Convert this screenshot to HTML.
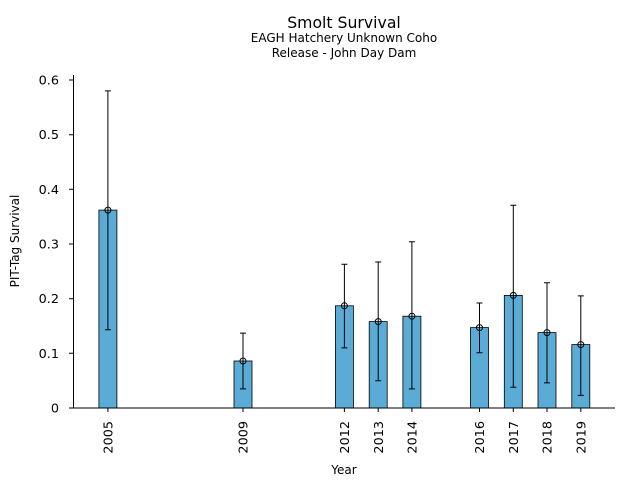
<!DOCTYPE html>
<html><head><meta charset="utf-8"><style>html,body{margin:0;padding:0;background:#fff}svg{display:block}</style></head>
<body>
<svg width="640" height="480" viewBox="0 0 640 480" xmlns="http://www.w3.org/2000/svg" font-family="DejaVu Sans, Liberation Sans, sans-serif">
<rect width="640" height="480" fill="#fff"/>
<text x="344" y="28" font-size="15.7" text-anchor="middle">Smolt Survival</text>
<text x="344" y="42" font-size="12" text-anchor="middle">EAGH Hatchery Unknown Coho</text>
<text x="344" y="57" font-size="12" text-anchor="middle">Release - John Day Dam</text>
<g fill="#5aacd6" stroke="#000" stroke-width="0.8">
<rect x="98.9" y="210.1" width="18" height="197.9"/>
<rect x="234" y="361" width="18" height="47"/>
<rect x="335.4" y="305.8" width="18" height="102.2"/>
<rect x="369.2" y="321.6" width="18" height="86.4"/>
<rect x="402.9" y="316.2" width="18" height="91.8"/>
<rect x="470.5" y="327.6" width="18" height="80.4"/>
<rect x="504.3" y="295.4" width="18" height="112.6"/>
<rect x="538" y="332.6" width="18" height="75.4"/>
<rect x="571.8" y="344.6" width="18" height="63.4"/>
</g>
<g stroke="#000" stroke-width="1" fill="none">
<path d="M107.9 90.9V329.8M104.9 90.9h6M104.9 329.8h6"/>
<path d="M243 333.1V388.9M240 333.1h6M240 388.9h6"/>
<path d="M344.4 264.2V347.9M341.4 264.2h6M341.4 347.9h6"/>
<path d="M378.2 262V380.7M375.2 262h6M375.2 380.7h6"/>
<path d="M411.9 241.8V388.9M408.9 241.8h6M408.9 388.9h6"/>
<path d="M479.5 303V352.8M476.5 303h6M476.5 352.8h6"/>
<path d="M513.3 205.2V387.2M510.3 205.2h6M510.3 387.2h6"/>
<path d="M547 282.8V382.9M544 282.8h6M544 382.9h6"/>
<path d="M580.8 295.9V395.4M577.8 295.9h6M577.8 395.4h6"/>
<circle cx="107.9" cy="210.1" r="3"/><circle cx="243" cy="361" r="3"/>
<circle cx="344.4" cy="305.8" r="3"/><circle cx="378.2" cy="321.6" r="3"/>
<circle cx="411.9" cy="316.2" r="3"/><circle cx="479.5" cy="327.6" r="3"/>
<circle cx="513.3" cy="295.4" r="3"/><circle cx="547" cy="332.6" r="3"/>
<circle cx="580.8" cy="344.6" r="3"/>
</g>
<g stroke="#000" stroke-width="1">
<line x1="73.5" y1="75" x2="73.5" y2="408.5"/>
<line x1="73" y1="408" x2="615" y2="408"/>
<path d="M69 408h4M69 353.3h4M69 298.7h4M69 244h4M69 189.3h4M69 134.7h4M69 80h4"/>
<path d="M107.9 408v4M243 408v4M344.4 408v4M378.2 408v4M411.9 408v4M479.5 408v4M513.3 408v4M547 408v4M580.8 408v4"/>
</g>
<g font-size="12.8" text-anchor="end">
<text x="59" y="412.5">0</text><text x="59" y="357.8">0.1</text><text x="59" y="303.2">0.2</text>
<text x="59" y="248.5">0.3</text><text x="59" y="193.8">0.4</text><text x="59" y="139.2">0.5</text><text x="59" y="84.5">0.6</text>
</g>
<g font-size="12.8" text-anchor="end">
<text transform="translate(112.5,421) rotate(-90)">2005</text>
<text transform="translate(247.6,421) rotate(-90)">2009</text>
<text transform="translate(349,421) rotate(-90)">2012</text>
<text transform="translate(382.8,421) rotate(-90)">2013</text>
<text transform="translate(416.5,421) rotate(-90)">2014</text>
<text transform="translate(484.1,421) rotate(-90)">2016</text>
<text transform="translate(517.9,421) rotate(-90)">2017</text>
<text transform="translate(551.6,421) rotate(-90)">2018</text>
<text transform="translate(585.4,421) rotate(-90)">2019</text>
</g>
<text x="344" y="474" font-size="12" text-anchor="middle">Year</text>
<text transform="translate(19,241) rotate(-90)" font-size="12" text-anchor="middle">PIT-Tag Survival</text>
</svg>
</body></html>
